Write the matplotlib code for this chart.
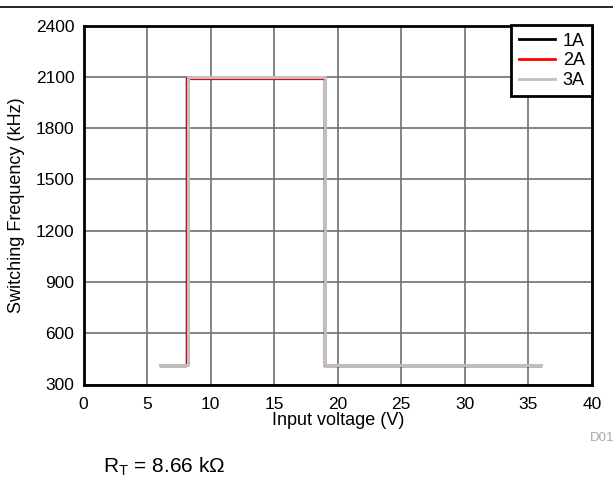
import matplotlib
matplotlib.use("Agg")
import matplotlib.pyplot as plt
from matplotlib.lines import Line2D

plt.rcParams["font.family"] = ["Liberation Sans", "DejaVu Sans"]

# switching frequency vs input voltage, one trace per load current
vin_1a = [6.0, 8.1, 8.1, 18.95, 18.95, 36.0]
fsw_1a = [410, 410, 2090, 2090, 410, 410]
vin_2a = [6.0, 8.05, 8.05, 18.92, 18.92, 36.0]
fsw_2a = [407, 407, 2088, 2088, 407, 407]
vin_3a = [6.0, 8.25, 8.25, 19.02, 19.02, 36.0]
fsw_3a = [416, 416, 2096, 2096, 416, 416]
labels = ["1A", "2A", "3A"]

xticks = [0, 5, 10, 15, 20, 25, 30, 35, 40]
yticks = [300, 600, 900, 1200, 1500, 1800, 2100, 2400]

W, H = 613, 479
fig = plt.figure(figsize=(W / 100, H / 100), dpi=100)
ax = fig.add_axes([83.5 / W, 1 - 384.5 / H, 508.5 / W, 359 / H])

ax.plot(vin_1a, fsw_1a, color="black", lw=1.0, label=labels[0], zorder=3)
ax.plot(vin_2a, fsw_2a, color="#e8000b", lw=0.9, label=labels[1], zorder=4)
ax.plot(vin_3a, fsw_3a, color="#c0c0c0", lw=2.2, label=labels[2], zorder=5)

ax.set_xlim(0, 40)
ax.set_ylim(300, 2400)
ax.set_xticks(xticks)
ax.set_yticks(yticks)
ax.grid(True, color="#707070", lw=1.2)
ax.set_axisbelow(True)
for s in ax.spines.values():
    s.set_linewidth(2)
ax.tick_params(length=0, labelsize=12.5)
ax.tick_params(axis="x", pad=8.8)
ax.tick_params(axis="y", pad=6.5)
ax.set_xlabel("Input voltage (V)", fontsize=13, labelpad=0)
ax.set_ylabel("Switching Frequency (kHz)", fontsize=13, labelpad=8)

handles = [Line2D([], [], color="black", lw=2),
           Line2D([], [], color="#ff0000", lw=2),
           Line2D([], [], color="#c0c0c0", lw=2)]
leg = ax.legend(handles, labels, loc="upper right", fontsize=13,
                fancybox=False, framealpha=1, edgecolor="black",
                borderaxespad=0, handlelength=2.0, handletextpad=0.45,
                labelspacing=0.15, borderpad=0.4)
leg.get_frame().set_linewidth(2)
leg.set_zorder(10)

# rule across the top of the page
fig.add_artist(Line2D([0, 1], [1 - 6.5 / H, 1 - 6.5 / H], color="black", lw=1.2))

fig.text(590 / W, 1 - 438 / H, "D01", color="#a8a8a8", fontsize=9.5, va="center")
fig.text(103 / W, 1 - 472 / H, "R$_\\mathregular{T}$ = 8.66 k\u03a9", fontsize=15,
         va="baseline")

fig.savefig("out.png", dpi=100)
